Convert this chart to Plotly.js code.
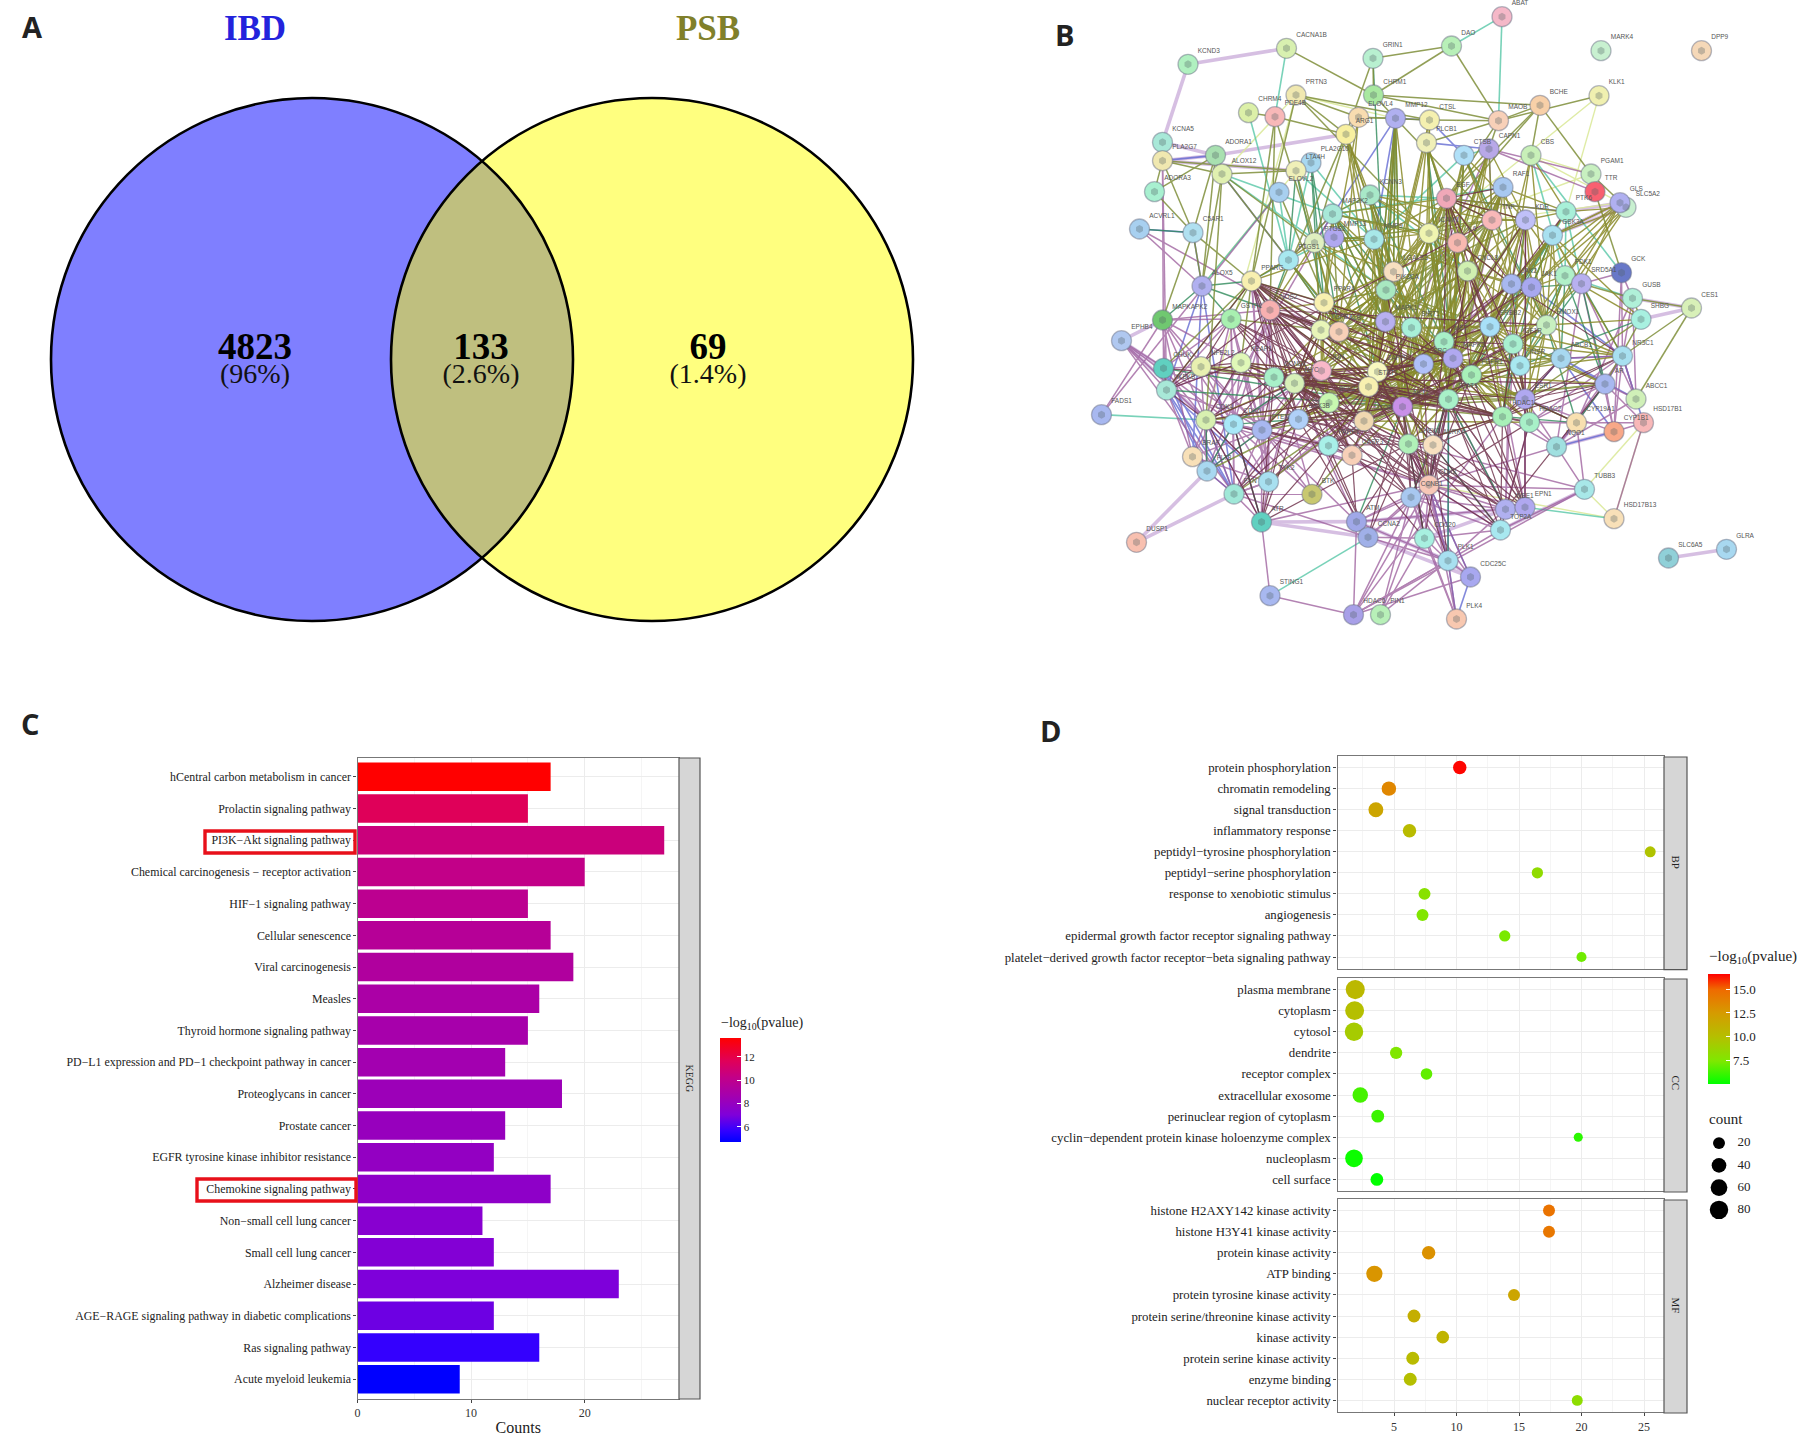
<!DOCTYPE html>
<html><head><meta charset="utf-8">
<script src="https://cdn.plot.ly/plotly-3.0.1.min.js"></script>
<style>html,body{margin:0;padding:0;background:#fff}</style></head>
<body><div id="chart" style="width:1813px;height:1445px"></div>
<script>
// ---------- Panel A: Venn ----------
const vennSets=['IBD','PSB'];
const vennCounts=['4823','133','69'];
const vennShares=['(96%)','(2.6%)','(1.4%)'];

// ---------- Panel C: KEGG bars ----------
const keggTerms=['hCentral carbon metabolism in cancer','Prolactin signaling pathway','PI3K−Akt signaling pathway','Chemical carcinogenesis − receptor activation','HIF−1 signaling pathway','Cellular senescence','Viral carcinogenesis','Measles','Thyroid hormone signaling pathway','PD−L1 expression and PD−1 checkpoint pathway in cancer','Proteoglycans in cancer','Prostate cancer','EGFR tyrosine kinase inhibitor resistance','Chemokine signaling pathway','Non−small cell lung cancer','Small cell lung cancer','Alzheimer disease','AGE−RAGE signaling pathway in diabetic complications','Ras signaling pathway','Acute myeloid leukemia'];
const keggCounts=[17,15,27,20,15,17,19,16,15,13,18,13,12,17,11,12,23,12,16,9];
const keggLogP=[13.6,11.6,10.6,10.2,9.9,9.6,9.3,9.0,8.8,8.6,8.3,8.1,7.9,7.7,7.4,7.2,7.0,6.7,5.7,4.7];

// ---------- Panel D: GO dots ----------
const bpTerms=['protein phosphorylation','chromatin remodeling','signal transduction','inflammatory response','peptidyl−tyrosine phosphorylation','peptidyl−serine phosphorylation','response to xenobiotic stimulus','angiogenesis','epidermal growth factor receptor signaling pathway','platelet−derived growth factor receptor−beta signaling pathway'];
const bpRatio=[10.26,4.59,3.55,6.24,25.5,16.47,7.44,7.28,13.86,20.0];
const bpLogP=[16.5,13.5,11.8,10.3,9.8,8.3,7.9,7.6,7.4,7.2];
const bpCount=[30,38,42,30,14,16,20,20,16,10];
const ccTerms=['plasma membrane','cytoplasm','cytosol','dendrite','receptor complex','extracellular exosome','perinuclear region of cytoplasm','cyclin−dependent protein kinase holoenzyme complex','nucleoplasm','cell surface'];
const ccRatio=[1.9,1.85,1.8,5.17,7.6,2.3,3.7,19.74,1.8,3.63];
const ccLogP=[10.5,10,9.3,7.6,6.9,6.4,6.2,5.9,5.3,5.1];
const ccCount=[88,85,80,22,18,48,25,6,70,25];
const mfTerms=['histone H2AXY142 kinase activity','histone H3Y41 kinase activity','protein kinase activity','ATP binding','protein tyrosine kinase activity','protein serine/threonine kinase activity','kinase activity','protein serine kinase activity','enzyme binding','nuclear receptor activity'];
const mfRatio=[17.4,17.4,7.77,3.43,14.6,6.6,8.9,6.5,6.3,19.66];
const mfLogP=[14.5,14.3,13,12.8,11.8,11.2,10.8,10.3,10,8.2];
const mfCount=[20,20,30,55,20,26,24,26,26,14];
const countLegend=[20,40,60,80];

// ---------- Panel B: network (layout units) ----------
const nodeNames=['ABAT','DAO','MARK4','DPP9','CACNA1B','KCND3','GRIN1','PRTN3','CHRM1','BCHE',
'KLK1','CHRM4','PDE4B','ELOVL4','MMP12','CTSL','MAOB','ARG1','PLCB1','KCNA5',
'PLA2G7','ADORA1','CAPN1','CTSB','CBS','ALOX12','PLA2G10','LTA4H','PGAM1','TTR',
'SLC5A2','GLS','ADORA3','ELOVL2','KCNN3','EGF','RAF1','ACVRL1','C5AR1','MAP2K2',
'PTK6','TNF','KDR','ICAM1','IL6','MMP13','MMP9','PTGS2','GSK3A','PTGS1',
'LGALS3','CXCL8','GCK','PDK1','SRD5A1','ALOX5','PPARG','JAK2','JAK1','PIK3CA',
'GUSB','CES1','PPARA','NOS2','MAPKAPK2','GSTP1','MAPK1','SHBG','SIRT1','ERBB2',
'HMOX1','TGFB1','ALB','EPHB4','MET','IGF1R','MAPK3','SRC','CHUK','NFE2L2',
'KEAP1','INSR','ABCB1','NR3C1','JUN','CCND1','MYC','FGFR1','ZAP70','STAT1',
'IKBKB','AR','BCL2','STAT3','AKT1','ESR1','ABCC1','FADS1','CDK4','CDK6',
'PTEN','GSK3B','MTOR','HDAC1','HDAC2','CYP19A1','CYP1B1','HSD17B1','PARP1','CHEK1',
'AURKA','CASP3','NQO1','BRAF','FLT3','TYK2','TUBB3','CDK2','CCNB1','FYN',
'BTK','WEE1','EPN1','HSD17B13','ATR','ATM','TOP2A','CCNA2','CDC20','DUSP1',
'SLC6A5','GLRA','PLK1','CDC25C','STING1','HDAC6','PIN1','PLK4'];
const nodeX=[944,843,1142,1343,513,316,686,532,687,1020,
1138,437,490,657,731,799,937,632,793,265,
265,371,918,868,1002,384,562,532,1122,1130,
1192,1180,249,498,680,833,946,219,326,605,
1072,924,991,798,855,608,688,569,1045,517,
727,875,1183,1070,1103,344,443,963,1003,712,
1205,1323,588,480,265,402,711,1222,763,920,
1033,582,618,183,828,966,846,787,267,342,
422,980,1062,1185,583,488,529,883,695,677,
273,1150,598,837,745,990,1212,143,352,407,
464,537,668,945,999,1093,1168,1227,597,757,
806,644,1053,325,354,477,1109,798,762,408,
564,951,990,1168,463,653,941,676,789,213,
1277,1393,836,881,480,647,701,853];
const nodeY=[50,138,152,152,145,193,175,285,285,316,
287,338,350,352,355,360,362,403,428,427,
482,466,447,466,466,522,488,512,522,575,
622,608,575,577,585,595,562,687,698,642,
635,660,660,700,728,712,718,728,706,780,
815,813,818,827,851,858,843,852,862,870,
895,924,908,930,960,957,965,958,983,980,
975,990,995,1022,1025,1032,1075,1092,1105,1100,
1088,1097,1075,1068,1112,1132,1150,1125,1115,1160,
1170,1152,1208,1198,1220,1197,1197,1244,1260,1273,
1290,1258,1263,1250,1267,1268,1295,1268,1337,1332,
1335,1366,1340,1370,1413,1445,1468,1455,1492,1482,
1483,1528,1522,1556,1566,1565,1590,1612,1615,1627,
1674,1648,1682,1731,1787,1844,1844,1857];
const nodeColors=['#f5b8c8','#b8f0b8','#c8f0d0','#f5d8b8','#d8f0b0','#b0f0c0','#b8f0d0','#f0e8b0','#a8e8a0','#f8d0a8',
'#f0f0b0','#dcf0a8','#f8b8b8','#f8dcb0','#b0b0f0','#f5f0b0','#f8d0b8','#f8f0a0','#f0f0b8','#a8e8d8',
'#f0e8b0','#a8e0b0','#b8a8e8','#b0e0f8','#c8f0b8','#e0f0b0','#a8d8f0','#f0f0b8','#c8f0c0','#f86070',
'#c8f0d0','#b0b0f0','#a8f0d0','#a8d0f0','#a8e8c8','#f0a8b8','#a8c8f0','#a8d0f0','#b0e0f0','#a8e8d8',
'#a8f0d8','#f8b8b8','#c0c0f8','#f0f5b0','#f8b8b0','#b0a8f0','#a8e8e8','#e0f0c0','#a8e0f0','#a8e8f0',
'#f8e0c0','#d0f0b0','#6878c8','#b0f0c8','#b8b0f0','#b0b0f0','#f8f0b0','#a8b8f0','#a8a8f0','#a8e8c0',
'#b0f0d8','#d8f0b8','#f8f0b0','#f8b0b0','#70c870','#a8f0b0','#b8b0f0','#a8f0e0','#a8f0d8','#a8e0f8',
'#c8f0c0','#e8f5b8','#f8d0b8','#b0c8f0','#a8f0c8','#a8f0d0','#b0a8f0','#b0c0f8','#60d0c0','#e8f0b0',
'#e0f8b8','#a8e8f0','#a8d8f0','#a8e0f0','#f8b8c8','#a8f0c8','#d8f0b8','#a8f0b8','#f8f8c0','#f8f0b0',
'#a8e8d8','#a8b8f0','#c8f8b0','#a8f0c8','#c890e8','#b0a8f0','#d0f0b8','#a8b8f0','#d8f0b0','#a8e8f8',
'#a8b8f0','#b0d0f8','#f0d8b0','#a8f0b8','#a8f0c8','#f8e0b0','#f8a888','#f8b8b8','#a8f0e8','#b0f0b8',
'#f8e0c0','#f8d0b8','#a0e0e0','#f8e0b8','#a8d8f0','#a8e0f0','#a8e8e8','#f8c8b8','#a8c8f0','#a0e8d8',
'#c8c870','#b0b0f0','#b0a8f0','#f8e0b8','#60d0c0','#a0a8e8','#a8e8f0','#a0b0e8','#a8f0e0','#f8c0b0',
'#90d0d8','#a8d8f0','#a8e0f0','#a8a8f0','#a8b8f0','#a8a0e8','#b8f0b8','#f8c8b0'];

// each string: a node followed by the nodes it is linked to
const edgesPale=['KCND3 CACNA1B KCNA5','ARG1 ADORA1','ADORA1 KCNA5','PLA2G7 ADORA1 LTA4H','EPHB4 MAPKAPK2 CHUK CDK4','ATR ATM CCNA2','DUSP1 FLT3 FYN','CES1 SHBG GUSB','TTR PGAM1','SLC6A5 GLRA','NQO1 CYP1B1 CYP19A1','ATM CCNA2 PLK1','WEE1 ATM CDC20','TUBB3 TOP2A','CDC25C PLK1 CCNA2','GSK3A GLS SLC5A2','PTK6 GLS'];
const edgesOlive=['DAO GRIN1 CHRM1 MAOB','CACNA1B CHRM1','GRIN1 CHRM1 ARG1','CHRM1 BCHE MMP12 MAOB','PRTN3 ARG1 CTSL ELOVL4 PPARG ICAM1','PDE4B ARG1 CHRM4 PTGS2 NOS2 PPARG','BCHE MAOB PGAM1 ICAM1 CBS EGF','KLK1 MAOB','MAOB CTSL PLCB1 EGF IL6','PGAM1 TTR SLC5A2','TTR GCK','ELOVL4 CTSL MMP12 ARG1','ARG1 NOS2 MMP9 PTGS2 LGALS3','PLA2G7 ALOX12 ADORA3 C5AR1 LTA4H','ADORA1 ADORA3 C5AR1 ALOX5','ALOX12 ALOX5 PTGS1 LTA4H PTGS2 CDK4','ADORA3 C5AR1','C5AR1 PPARG ALOX5 MAPKAPK2','GUSB SHBG CES1 SRD5A1','SHBG ESR1 AR','CES1 ABCC1 NR3C1',
'AKT1 SRC STAT3 MAPK1 MAPK3 PIK3CA MTOR GSK3B CCND1 MYC JUN TNF IL6 EGF KDR ERBB2 IGF1R INSR MET FGFR1 ESR1 AR HDAC1 CDK2 CDK4 PTEN BCL2 CASP3 PARP1 NOS2 PPARG PTGS2 MMP9 ICAM1 TGFB1 ALB HMOX1 SIRT1 NFE2L2 KEAP1 CXCL8 CHEK1 AURKA ABCB1 GSK3A STAT1',
'SRC MAPK1 MAPK3 STAT3 ERBB2 KDR MET EGF IGF1R JAK2 JAK1 FGFR1 INSR PIK3CA PTEN FYN BTK ZAP70 ESR1 ABCB1 CAPN1 CTSB MMP9 TYK2 FLT3 RAF1',
'STAT3 JAK1 JAK2 IL6 TNF EGF CCND1 MYC JUN BCL2 MTOR NFE2L2 PTK6 RAF1 CXCL8 SIRT1 PPARG TGFB1 HMOX1 ERBB2 HDAC1 ESR1 AR',
'MAPK1 RAF1 MAP2K2 MAPK3 JUN EGF TNF IL6 PIK3CA ZAP70 MMP13 MMP9 PPARA LGALS3 ICAM1 CXCL8 TGFB1 ALB',
'PIK3CA MAP2K2 MMP9 LGALS3 PTEN MTOR ZAP70 ERBB2 KDR IGF1R INSR ALB TGFB1 PPARA BCL2 GSK3B',
'TNF IL6 ICAM1 CXCL8 EGF CTSB CAPN1 MMP12 RAF1 KDR HMOX1 ALB PTGS2','ALB TGFB1 PPARG PPARA ELOVL2 PTGS1 LTA4H GSTP1 NOS2 MAP2K2 MMP9','PPARG PPARA NOS2 GSTP1 KEAP1 CHUK IKBKB'];
const edgesOliveDense=['MAPK3 STAT3 AKT1 EGF ERBB2 RAF1 JUN MYC CCND1 TNF IL6 ICAM1 CXCL8 KDR MET FGFR1 IGF1R INSR HDAC1 HDAC2 ESR1 MTOR PIK3CA SIRT1 ZAP70 STAT1 BCL2 GSK3B',
'CXCL8 IL6 ICAM1 STAT1 STAT3 SRC ZAP70 MET ERBB2 KDR HMOX1 MMP9 FGFR1 JAK2 JAK1 IGF1R CCND1 MYC',
'ICAM1 IL6 EGF STAT3 MAPK1 ERBB2 SIRT1 MET LGALS3 PIK3CA ALB TGFB1 JUN',
'ERBB2 MET FGFR1 IGF1R INSR KDR HDAC1 ESR1 JAK2 JAK1 AR NR3C1 HMOX1 PTK6 GSK3A ALB ZAP70 BCL2',
'LGALS3 PIK3CA ZAP70 SIRT1 MAPK1 TGFB1 MMP9 ALB PPARA STAT1 STAT3 AKT1 JUN',
'SIRT1 MET MAPK3 SRC HMOX1 FGFR1 ERBB2 PPARA TGFB1 MYC JUN CCND1 MTOR CDK2 HDAC1',
'FGFR1 IGF1R INSR JAK2 JAK1 KDR HDAC1 HDAC2 ESR1 AR HMOX1 ABCB1 NR3C1 CYP19A1',
'IGF1R INSR JAK1 JAK2 HMOX1 HDAC1 AR ABCB1 NR3C1 PDK1 SRD5A1',
'KDR JAK1 HMOX1 GSK3A PTK6 PDK1 IGF1R CAPN1 CTSB EGF TNF',
'GSK3A JAK2 JAK1 KDR HMOX1 SRD5A1 NR3C1 GLS SLC5A2 SHBG ABCB1 INSR',
'PDK1 JAK1 HMOX1 SHBG GLS','SLC5A2 JAK1 HMOX1 PDK1 PTK6','GLS JAK2 HMOX1 SRD5A1 JAK1 GSK3A',
'HMOX1 JAK1 INSR ABCB1 NR3C1 SHBG ESR1 HDAC2',
'TGFB1 ALB JUN MYC CCND1 BCL2 PPARA PIK3CA GSK3B STAT1 ZAP70 SRC MAPK3',
'PPARA LGALS3 MAP2K2 PTGS1 NOS2 MAPK3 JUN MYC ZAP70 MAPK1 STAT1',
'BCL2 MYC CCND1 JUN STAT1 GSK3B PTEN CASP3 CDK4 MTOR ZAP70 SRC',
'MMP9 STAT1 MMP13 LGALS3 ICAM1 PPARG PTGS2 TGFB1 ZAP70 JUN AKT1',
'PTGS2 MMP9 MMP13 PIK3CA PPARG ALB NOS2 TGFB1 LGALS3 MAPK1',
'EGF STAT1 ZAP70 MTOR PIK3CA PTK6 MAP2K2 MMP9 HMOX1 INSR CXCL8 LGALS3',
'RAF1 SIRT1 ICAM1 JAK2 ERBB2 MET PTK6 HMOX1 IL6 CXCL8','IL6 SIRT1 LGALS3 JAK2 MET PIK3CA',
'JUN MYC CCND1 NFE2L2 KEAP1 PTEN CDK4 HDAC1 ESR1 MAP2K2','STAT1 MYC CCND1 JUN MTOR CHEK1 PARP1',
'MAP2K2 PTGS1 MMP13 LGALS3 KCNN3 ICAM1 IL6','KCNN3 MAPK1 PIK3CA ICAM1 LGALS3 IL6 TNF',
'MTOR MAPK1 SRC ERBB2 MET AURKA HDAC2','HDAC2 MET INSR IGF1R JAK1','CHEK1 MET STAT3 CXCL8 FGFR1 HDAC1 ZAP70 MAPK3',
'PLCB1 CXCL8 MAPK1 AKT1 STAT3 EGF','CTSL ICAM1 MAPK1 SRC LGALS3','CTSB STAT3 AKT1 JAK2 IL6','CAPN1 AKT1 STAT3 EGF MET','CBS JAK2 ERBB2 HMOX1 PTK6','MMP12 AKT1 SRC MAPK1 STAT1 ZAP70 LGALS3','ARG1 STAT3 SRC AKT1 ZAP70','ELOVL4 PPARA ALB'];
const edgesDark=['STAT1 AKT1 STAT3 JAK2 JAK1 TYK2 HDAC1 ZAP70 SRC MYC JUN','ZAP70 SRC AKT1 STAT3 MAPK3 MTOR CHEK1 AURKA SIRT1 GSK3B PARP1 CCND1 FYN BTK MAPK1','CCND1 CDK4 CDK6 MYC PTEN GSK3B HDAC1 HDAC2 ESR1 AR CDK2 BCL2 JUN CHUK NFE2L2','MYC JUN CDK4 CDK2 HDAC2 MTOR CASP3 CHEK1 TGFB1 STAT3 PPARA','GSK3B MTOR PTEN CDK2 AKT1 JUN CHEK1 AURKA CASP3 FYN','HDAC1 HDAC2 ESR1 AR STAT3 SIRT1 JUN IGF1R AURKA CHEK1 ABCB1 NR3C1','MTOR CHEK1 CDK2 IGF1R INSR FGFR1 PARP1 CASP3 SIRT1 HMOX1','CHEK1 AURKA CDK2 CCNB1 PARP1 WEE1 ATM ATR TOP2A PLK1','AURKA CDK2 CCNB1 PLK1 STAT3 TOP2A','EGF ERBB2 FGFR1 IGF1R MET KDR RAF1 JAK2 TNF','JAK2 JAK1 KDR INSR FGFR1 IL6 PTK6 MET NR3C1','MET ERBB2 FGFR1 IGF1R INSR KDR CDK2','ESR1 AR IGF1R INSR ABCB1 NR3C1 CYP19A1 HDAC2 KDR','IKBKB CHUK NOS2 PPARG KEAP1 TNF CDK4','NOS2 PARP1 HMOX1 CCND1 GSK3B CASP3 CDK4','CASP3 PARP1 BCL2 CDK2 ATM CCNB1 MYC',
'PPARG AKT1 MTOR STAT3 JUN MYC CCND1 GSK3B MAPK1 MAPK3 SRC TGFB1 ZAP70 BCL2','NOS2 AKT1 JUN MYC MAPK3 SRC STAT3 MTOR TGFB1 ALB STAT1','GSTP1 AKT1 MYC JUN CCND1 MTOR NFE2L2','KEAP1 NFE2L2 AKT1 MTOR JUN GSK3B BCL2','EPN1 STAT3 HDAC1 ESR1 AKT1 SRC MAPK3 FGFR1 CHEK1','WEE1 MAPK3 SRC AKT1 MYC CCND1 AR','CDK2 STAT3 SRC HDAC2 MAPK3 ZAP70 PIK3CA STAT1 CCND1','FGFR1 MAPK3 STAT3 AKT1 CDK2 PARP1','CXCL8 MAPK3 HDAC1 HDAC2 ESR1','SRC JUN MYC CCND1 TGFB1 PPARA','ATR CDK4 CDK6 MYC CCND1 GSK3B PARP1','CDK4 BCL2 PARP1 TYK2','PTEN BCL2 PARP1 JUN','TOP2A HDAC1 HDAC2 CDK2 STAT3','CDC20 AKT1 MYC CHEK1 STAT3','CCNA2 MYC CCND1 AKT1 CHEK1 PARP1','CCNB1 MTOR AKT1 MYC JUN'];
const edgesGreen=['MMP12 MAPK1 LGALS3 STAT1 AKT1 PIK3CA','GRIN1 MAPK1','PLCB1 MAPK3 STAT3 CXCL8 MET','MAP2K2 MAPK1 MAPK3 SIRT1 ZAP70','KCNN3 MAPK3 SRC','ALOX5 PPARG NOS2 GSTP1 MAPKAPK2','PTGS1 NOS2 PPARG ZAP70 ALB','LTA4H PTGS1 PPARA','PLA2G10 PPARA ALB TGFB1','CTSB HMOX1 MAPK3','EGF MAPK3','ICAM1 STAT3 MAPK3 AKT1','GSK3A JAK1 FGFR1 STAT3','PDK1 ABCB1 HMOX1 INSR AR','SRD5A1 INSR AR NR3C1 JAK1','CYP19A1 HMOX1 HDAC1 AR ESR1','HDAC1 JAK1 KDR','SHBG INSR','FLT3 CDK4 PTEN CDK6','ACVRL1 C5AR1','MAPK3 CDK2 STAT1','AKT1 CDC20 ATM TOP2A CHUK IKBKB','STAT3 CCNB1 WEE1 PLK1','CDK6 MYC GSK3B ATR'];
const edgesPurple=['CDK2 CCNB1 CCNA2 CDC20 PLK1 WEE1 ATM ATR CDC25C TOP2A PIN1 PLK4 HDAC6 EPN1 STAT1 CDK4 CDK6 RAF1 NQO1 TUBB3','CCNB1 CCNA2 CDC20 PLK1 WEE1 ATM CDC25C TOP2A PIN1 PLK4 HDAC6','PLK1 CCNA2 CDC20 WEE1 TOP2A HDAC6 PIN1 PLK4 CDC25C ATM AKT1','CDC20 PLK4 CCNA2 TOP2A PIN1','HDAC6 ATM PLK1 HDAC1 CDC25C STING1','STING1 ATR','WEE1 EPN1 HDAC2 STAT3 IGF1R JAK2','EPN1 KDR ESR1 ERBB2 ATM','TUBB3 HDAC6 CYP19A1 TOP2A CHEK1','CDK4 EPHB4 PTEN BRAF FLT3 TYK2 ATR FYN CDK6 GSTP1 KEAP1','CDK6 PTEN BTK FYN TYK2 ATR FLT3 MYC','PTEN BRAF FLT3 TYK2 FYN ATR BTK ATM CASP3','BRAF MAPKAPK2 FLT3 IKBKB TYK2 MAP2K2','FYN ATR FLT3 TYK2 BTK CCNA2','TYK2 ATR FYN JAK1 JAK2','FADS1 MAPKAPK2 ELOVL2','ACVRL1 ALOX5 TGFB1','PLA2G7 IKBKB CHUK','IKBKB MAPKAPK2 EPHB4 KEAP1 GSTP1 PARP1','CHUK CDK4 NFE2L2 GSTP1','JUN CASP3 CDK6 FYN PARP1 NOS2 BCL2','CAPN1 TNF CASP3 TTR PGAM1','NR3C1 AR ABCC1 GCK ABCB1 CYP1B1 NQO1','HSD17B1 HSD17B13 CYP1B1 CYP19A1 AR','CYP19A1 HDAC2 AR NQO1','HDAC2 CYP19A1 NR3C1 AR',
'MAPKAPK2 CDK4 CDK6 PTEN KEAP1 GSTP1 NOS2','EPHB4 CDK6 FYN PTEN','NOS2 CDK6 TYK2 FLT3 PTEN','GSTP1 CDK6 PTEN TYK2 FYN','NFE2L2 CDK6 PTEN FLT3','KEAP1 PTEN CDK6 TYK2','PPARG PTEN TYK2 BTK','MYC ATM PTEN TYK2','GCK CYP1B1 SRD5A1 GUSB','GUSB NR3C1 CYP19A1 ABCC1','SRD5A1 ABCC1 NQO1 CYP1B1','AR CYP1B1 ABCC1 NQO1','NQO1 ABCC1 HDAC2 HDAC1 TUBB3','ESR1 CYP1B1 NQO1 EPN1'];
const edgesBlue=['KCNA5 PLA2G7','ACVRL1 C5AR1','C5AR1 ALOX5','ADORA1 PLA2G7','PLCB1 CAPN1','MMP12 PTGS2 MMP9','CTSL CTSB MMP12','PTK6 ERBB2 EGF','MAPK3 SRC','ALOX5 FYN BRAF IKBKB','CHUK FYN','ABCC1 ABCB1 NR3C1','NR3C1 HSD17B1 AR','CYP1B1 NQO1 ABCB1','ABCB1 AR ESR1','PTGS1 MAP2K2 ALOX12','STAT3 PLK1','CDK2 CDC25C PLK1','FLT3 FYN CHUK','IKBKB FYN FLT3','TYK2 IKBKB','CDK4 FYN','PLK4 PLK1 CDC25C','NR3C1 JAK1 ABCB1'];
const edgesTeal=['CACNA1B PDE4B','ABAT DAO MAOB','CHRM4 PTGS1','ALOX12 MAP2K2 PIK3CA','PLA2G10 LTA4H MMP9 PTGS1','MAP2K2 KCNN3 ICAM1 RAF1','KCNN3 MMP9 EGF CXCL8','FADS1 CDK4','STING1 CCNA2','EPN1 HSD17B13','GSK3A PTK6 JAK1','MMP9 MMP13 PIK3CA LTA4H','MMP13 PTGS1 MAPK1','PTK6 PDK1 SRD5A1 GSK3A','PDK1 SRD5A1 GUSB','CTSB MMP9 CAPN1','CBS PDK1 GCK','ELOVL2 PTGS1 ALOX5'];
const edgesThin=['KLK1 ICAM1 PTK6','HSD17B1 HSD17B13 TUBB3','HSD17B13 TUBB3 CDK2','CTSL ICAM1 MMP12','PRTN3 MMP12 CDK4 ALOX12','LTA4H ALOX5','GLS TNF CBS','PGAM1 ICAM1 CBS'];

// ---------- helpers ----------
const W=1813,H=1445;
const dx=(a,b)=>[a/W,b/W], dy=(t,b)=>[1-b/H,1-t/H];
const serif='"Liberation Serif", serif';
const nodeIndex={};nodeNames.forEach((n,i)=>nodeIndex[n]=i);
function edgeTrace(list,color,width,opacity){
  const x=[],y=[];
  list.forEach(s=>{const p=s.split(' ');const a=nodeIndex[p[0]];
    p.slice(1).forEach(n=>{const b=nodeIndex[n];if(a===undefined||b===undefined)return;
      x.push(nodeX[a],nodeX[b],null);y.push(nodeY[a],nodeY[b],null);});});
  return {type:'scatter',mode:'lines',x,y,xaxis:'x6',yaxis:'y6',connectgaps:false,opacity,
    line:{color,width},hoverinfo:'skip',showlegend:false};
}
const dotSize=c=>5.5+1.45*Math.sqrt(c);
const redBlue=[[0,'#0000ff'],[.11,'#3300ff'],[.26,'#7f00da'],[.45,'#a500ad'],[.62,'#c20088'],[.78,'#e00058'],[1,'#ff0000']];
const greenRed=[[0,'#00ff00'],[.21,'#7fe800'],[.43,'#b5bf00'],[.65,'#d69a00'],[.86,'#ef6a00'],[1,'#ff0000']];
const cbar=(x,t,len,thick,fs,vals,txt)=>({x:x/W,xanchor:'left',y:1-t/H,yanchor:'top',len,lenmode:'pixels',thickness:thick,thicknessmode:'pixels',
  xpad:0,ypad:0,outlinewidth:0,ticks:'inside',ticklen:4,tickcolor:'#fff',tickvals:vals,ticktext:txt,
  tickfont:{family:serif,size:fs,color:'#222'}});
function dotTrace(terms,ratio,logp,count,n,bar){
  const t={type:'scatter',mode:'markers',x:ratio,y:terms,xaxis:'x'+n,yaxis:'y'+n,showlegend:false,
    marker:{size:count.map(dotSize),sizemode:'diameter',opacity:1,color:logp,cmin:5.08,cmax:16.57,colorscale:greenRed,line:{width:0},showscale:!!bar}};
  if(bar)t.marker.colorbar=cbar(1708,974,110,22,13,[7.5,10,12.5,15],['7.5','10.0','12.5','15.0']);
  return t;
}
const frame={showline:true,mirror:true,linecolor:'#777',linewidth:1.3,zeroline:false,fixedrange:true};
const catAxis=(terms,domain,anchor,x0,fs)=>Object.assign({},frame,{type:'category',categoryorder:'array',categoryarray:terms,
  range:[terms.length-1+x0,-x0],domain,anchor,gridcolor:'#ececec',showgrid:true,ticks:'outside',ticklen:3,tickcolor:'#444',
  tickfont:{family:serif,size:fs,color:'#222'},tickson:'labels'});
const dotX=(anchor,show)=>Object.assign({},frame,{domain:dx(1337.5,1664),anchor,range:[0.48,26.6],tick0:5,dtick:5,
  gridcolor:'#ececec',showgrid:true,minor:{dtick:2.5,tick0:0,showgrid:true,gridcolor:'#f5f5f5'},
  ticks:show?'outside':'',ticklen:3,tickcolor:'#444',showticklabels:show,tickfont:{family:serif,size:12,color:'#333'}});
const hidden=o=>Object.assign({visible:false,fixedrange:true},o);

// ---------- traces ----------
const traces=[];
// A
traces.push({type:'scatter',mode:'text',x:[255,708],y:[31,31],text:vennSets,xaxis:'x5',yaxis:'y5',showlegend:false,hoverinfo:'skip',
  textfont:{family:serif,size:35,weight:700,color:['#2323dc','#80802a']}});
traces.push({type:'scatter',mode:'text',x:[255,481,708],y:[350,350,350],text:vennCounts,xaxis:'x5',yaxis:'y5',showlegend:false,hoverinfo:'skip',
  textfont:{family:serif,size:37,weight:700,color:'#000'}});
traces.push({type:'scatter',mode:'text',x:[255,481,708],y:[376,376,376],text:vennShares,xaxis:'x5',yaxis:'y5',showlegend:false,hoverinfo:'skip',
  textfont:{family:serif,size:28,color:'#111'}});
// B
traces.push(edgeTrace(edgesPale,'#cdb0dc',3.6,.8));
traces.push(edgeTrace(edgesThin,'#dcea9c',1.4,.9));
traces.push(edgeTrace(edgesTeal,'#58c8a8',1.6,.8));
traces.push(edgeTrace(edgesBlue,'#5a62d0',1.6,.75));
traces.push(edgeTrace(edgesPurple,'#9a5a9a',1.5,.75));
traces.push(edgeTrace(edgesGreen,'#2e8a5a',1.4,.8));
traces.push(edgeTrace(edgesOlive,'#7f8f3a',1.5,.85));
traces.push(edgeTrace(edgesOliveDense,'#8a8a28',1.4,.85));
traces.push(edgeTrace(edgesDark,'#6a2a45',1.2,.8));
traces.push({type:'scatter',mode:'markers',x:nodeX,y:nodeY,xaxis:'x6',yaxis:'y6',showlegend:false,
  marker:{size:20,opacity:1,color:nodeColors,line:{width:1.3,color:'rgba(110,115,135,.5)'}},hovertext:nodeNames,hoverinfo:'text'});
traces.push({type:'scatter',mode:'markers',x:nodeX,y:nodeY,xaxis:'x6',yaxis:'y6',showlegend:false,hoverinfo:'skip',
  marker:{size:8,symbol:'hexagon',color:'rgba(80,95,100,.32)'}});
traces.push({type:'scatter',mode:'markers+text',x:nodeX,y:nodeY,text:nodeNames,xaxis:'x6',yaxis:'y6',textposition:'top right',showlegend:false,hoverinfo:'skip',
  textfont:{family:'"Liberation Sans", sans-serif',size:6.5,color:'#555'},
  marker:{size:14,color:'rgba(0,0,0,0)',line:{width:0}}});
// C
traces.push({type:'bar',orientation:'h',x:keggCounts,y:keggTerms,xaxis:'x',yaxis:'y',width:.9,showlegend:false,
  marker:{color:keggLogP,cmin:4.7,cmax:13.6,colorscale:redBlue,line:{width:0},showscale:true,colorbar:cbar(720,1038,104,21,11,[6,8,10,12],['6','8','10','12'])}});
// D
traces.push(dotTrace(bpTerms,bpRatio,bpLogP,bpCount,2,true));
traces.push(dotTrace(ccTerms,ccRatio,ccLogP,ccCount,3,false));
traces.push(dotTrace(mfTerms,mfRatio,mfLogP,mfCount,4,false));
traces.push({type:'scatter',mode:'markers',x:countLegend.map(()=>11),y:countLegend,
  xaxis:'x7',yaxis:'y7',showlegend:false,hoverinfo:'skip',
  marker:{size:countLegend.map(dotSize),opacity:1,color:'#000',line:{width:0}}});
traces.push({type:'scatter',mode:'text',x:countLegend.map(()=>36),y:countLegend,text:countLegend.map(String),textposition:'middle center',
  xaxis:'x7',yaxis:'y7',showlegend:false,hoverinfo:'skip',textfont:{family:serif,size:13,color:'#222'}});

// ---------- shapes & annotations ----------
const paperRect=(x0,y0,x1,y1,fill,line,lw)=>({type:'rect',xref:'paper',yref:'paper',x0:x0/W,x1:x1/W,y0:1-y0/H,y1:1-y1/H,
  fillcolor:fill,line:{color:line,width:lw},layer:'above'});
const vennCircle=(x0,x1,fill,lw)=>({type:'circle',xref:'x5',yref:'y5',x0,x1,y0:98,y1:621,fillcolor:fill,line:{color:'#000',width:lw},layer:'below'});
const shapes=[
 vennCircle(51,573,'rgba(0,0,255,.5)',0),
 vennCircle(391,913,'rgba(255,255,0,.5)',0),
 vennCircle(51,573,'rgba(0,0,0,0)',2.6),
 vennCircle(391,913,'rgba(0,0,0,0)',2.6),
 paperRect(679,758,700,1399,'#d6d6d6','#555',1.2),
 paperRect(1664,757,1687,969.6,'#d6d6d6','#555',1.2),
 paperRect(1664,979,1687,1192,'#d6d6d6','#555',1.2),
 paperRect(1664,1200,1687,1413,'#d6d6d6','#555',1.2),
 paperRect(205,831,355,853,'rgba(0,0,0,0)','#e8101a',3.4),
 paperRect(197,1179,356,1201,'rgba(0,0,0,0)','#e8101a',3.4)
];
const ann=(text,x,y,size,o)=>Object.assign({text,x:x/W,y:1-y/H,xref:'paper',yref:'paper',showarrow:false,xanchor:'center',yanchor:'middle',
  font:{family:serif,size,color:'#222'}},o||{});
const letter=(t,x,y)=>ann(t,x,y,29,{font:{family:'"Open Sans", sans-serif',size:29,weight:700,color:'#222'}});
const annotations=[
 letter('A',32,27),letter('B',1064,34),letter('C',30,723),letter('D',1050,730),
 ann('KEGG',689.5,1078,10,{textangle:90}),
 ann('BP',1675.5,862,11,{textangle:90}),ann('CC',1675.5,1083,11,{textangle:90}),ann('MF',1675.5,1305,11,{textangle:90}),
 ann('−log<sub>10</sub>(pvalue)',719,1023,14,{xanchor:'left'}),
 ann('−log<sub>10</sub>(pvalue)',1707,957,15,{xanchor:'left'}),
 ann('count',1707,1119,15,{xanchor:'left'})
];

// ---------- layout ----------
const layout={width:W,height:H,margin:{l:0,r:0,t:0,b:0,pad:0},paper_bgcolor:'#fff',plot_bgcolor:'#fff',showlegend:false,hovermode:'closest',shapes,annotations,
 // C
 xaxis:Object.assign({},frame,{domain:dx(357.5,679),anchor:'y',range:[0,28.3],tick0:0,dtick:10,gridcolor:'#ececec',showgrid:true,
   minor:{dtick:5,tick0:0,showgrid:true,gridcolor:'#f5f5f5'},ticks:'outside',ticklen:3,tickcolor:'#444',tickfont:{family:serif,size:12,color:'#333'},
   title:{text:'Counts',font:{family:serif,size:16,color:'#222'},standoff:2}}),
 yaxis:catAxis(keggTerms,dy(757.5,1398.5),'x',.61,11.9),
 // D
 xaxis2:dotX('y2',false),yaxis2:catAxis(bpTerms,dy(756,968.6),'x2',.55,12.8),
 xaxis3:dotX('y3',false),yaxis3:catAxis(ccTerms,dy(978,1191),'x3',.55,12.8),
 xaxis4:dotX('y4',true),yaxis4:catAxis(mfTerms,dy(1199,1412),'x4',.55,12.8),
 // A
 xaxis5:hidden({domain:dx(0,950),range:[0,950],anchor:'y5'}),
 yaxis5:hidden({domain:dy(0,660),range:[660,0],anchor:'x5'}),
 // B
 xaxis6:hidden({domain:dx(1030,1813),range:[0,1566],anchor:'y6'}),
 yaxis6:hidden({domain:dy(0,660),range:[1980,0],anchor:'x6'}),
 // size legend
 xaxis7:hidden({domain:dx(1708,1768),range:[0,60],anchor:'y7'}),
 yaxis7:hidden({domain:dy(1132,1221),range:[90,10],anchor:'x7'})
};
Plotly.newPlot('chart',traces,layout,{displayModeBar:false,responsive:false});
</script></body></html>
